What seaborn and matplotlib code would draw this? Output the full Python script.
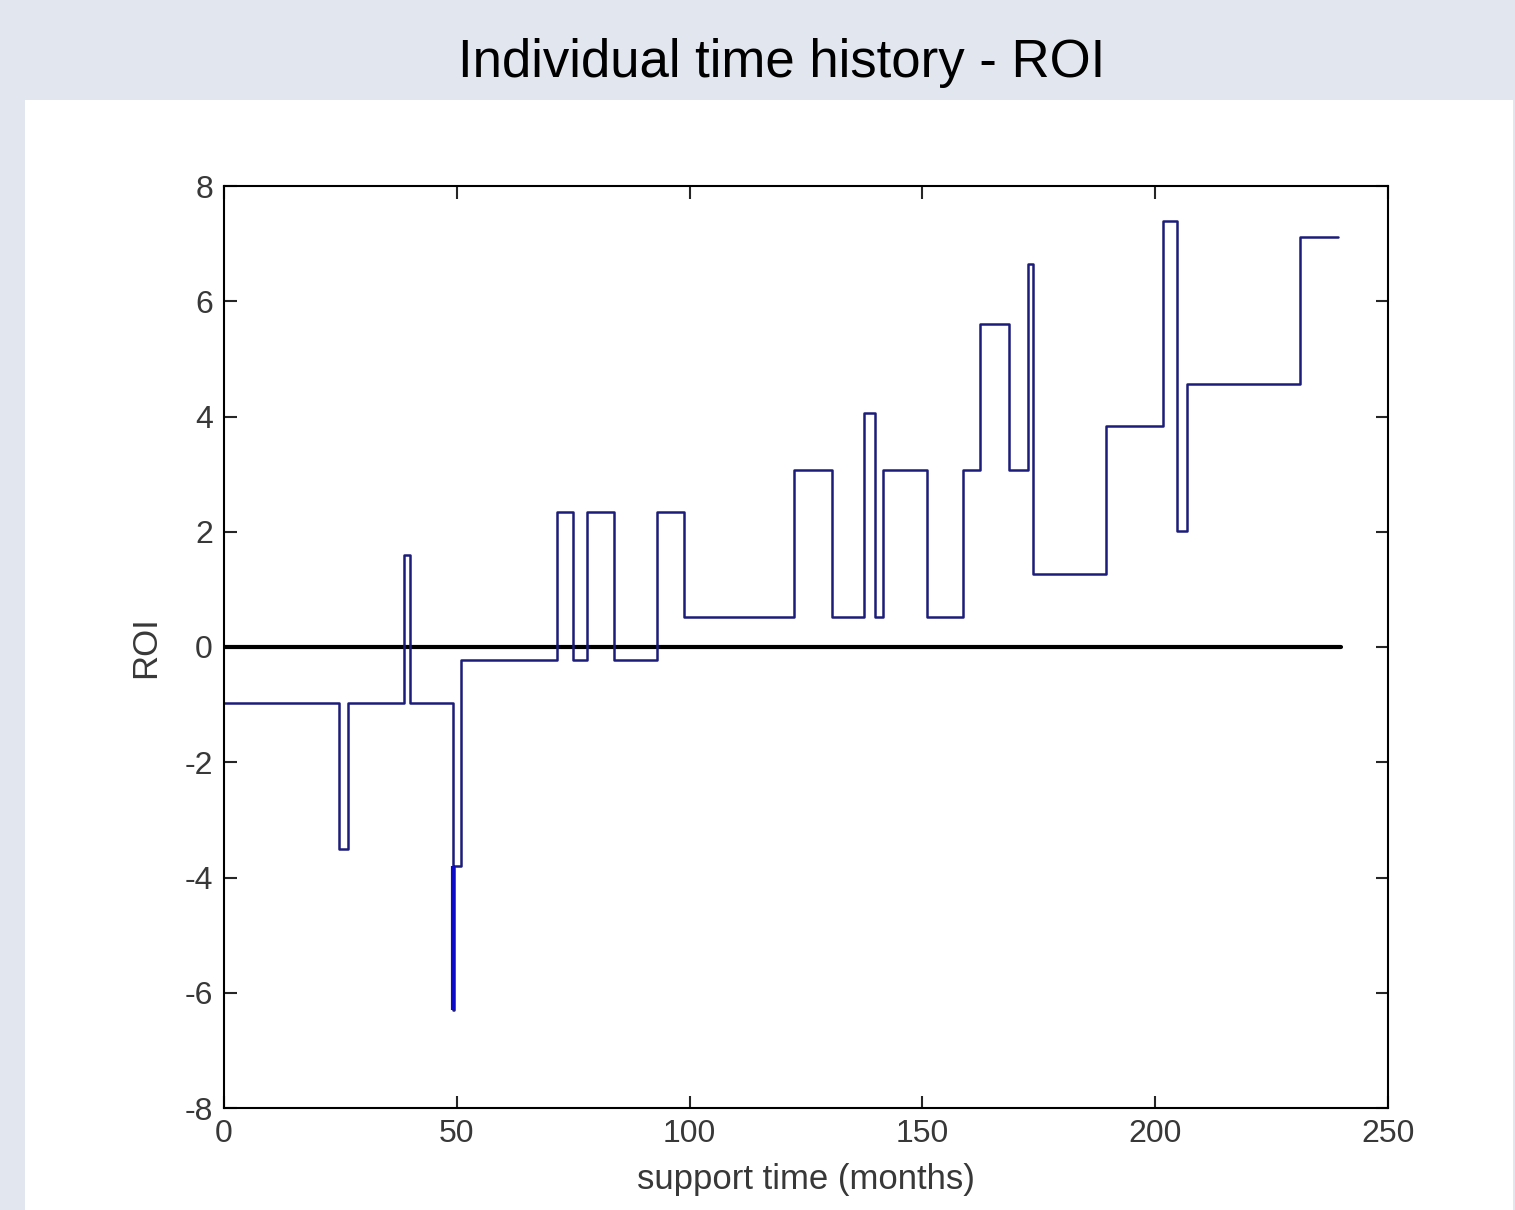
import matplotlib
matplotlib.use("Agg")
import matplotlib.pyplot as plt
from matplotlib.patches import Rectangle
import pandas as pd
import seaborn as sns

# step change times (months) and ROI level held from each time
months = [0, 24.6, 26.6, 38.6, 39.9, 49.2, 49.5, 50.8, 71.6, 75.0, 77.9, 83.8,
          93.1, 98.7, 122.4, 130.5, 137.5, 139.8, 141.5, 150.9, 158.8, 162.4,
          168.7, 172.7, 173.8, 189.4, 201.6, 204.6, 206.8, 231.1, 239.3]
roi = [-0.98, -3.5, -0.98, 1.6, -0.98, -6.3, -3.8, -0.22, 2.34, -0.22, 2.34, -0.22,
       2.34, 0.52, 3.08, 0.52, 4.06, 0.52, 3.08, 0.52, 3.08, 5.6,
       3.08, 6.65, 1.27, 3.84, 7.39, 2.02, 4.57, 7.11, 7.11]
zero_x = [0, 240]
zero_y = [0, 0]

x_ticks = [0, 50, 100, 150, 200, 250]
y_ticks = [-8, -6, -4, -2, 0, 2, 4, 6, 8]

df = pd.DataFrame({"months": months, "roi": roi})

sns.set_style("ticks")
plt.rcParams["font.family"] = ["Liberation Sans", "DejaVu Sans"]
plt.rcParams["axes.unicode_minus"] = False

fig = plt.figure(figsize=(15.15, 12.10), dpi=100)
fig.patch.set_facecolor("#e2e6ef")
fig.patches.append(Rectangle((25 / 1515, 0), 1488 / 1515, 1110 / 1210,
                             transform=fig.transFigure, facecolor="white",
                             edgecolor="none", zorder=-10))

fig.text(0.516, 0.948, "Individual time history - ROI", ha="center", va="center",
         fontsize=38, color="black")

ax = fig.add_axes([224 / 1515, 1 - 1108 / 1210, 1164 / 1515, 922 / 1210])
ax.set_facecolor("white")

sns.lineplot(x=zero_x, y=zero_y, ax=ax, color="black", linewidth=3)
sns.lineplot(data=df, x="months", y="roi", ax=ax, color="#1c1c7a",
             linewidth=1.8, drawstyle="steps-post", sort=False)
# the short dip at ~49 months shows up as a heavier blue stroke
ax.plot([months[5], months[5]], [roi[6], roi[5]], color="#0a0ac8",
        linewidth=3, solid_capstyle="butt")

ax.set_xlim(0, 250)
ax.set_ylim(-8, 8)
ax.set_xticks(x_ticks)
ax.set_yticks(y_ticks)
ax.tick_params(direction="in", length=9, width=1.5, top=True, right=True,
               labelsize=23, labelcolor="#383838", pad=8)
for side in ax.spines.values():
    side.set_visible(True)
    side.set_linewidth(1.5)
    side.set_color("black")

ax.set_xlabel("support time (months)", fontsize=25, color="#383838", labelpad=10)
ax.set_ylabel("ROI", fontsize=25, color="#383838", labelpad=16)

fig.savefig("out.png", dpi=100, facecolor=fig.get_facecolor())
